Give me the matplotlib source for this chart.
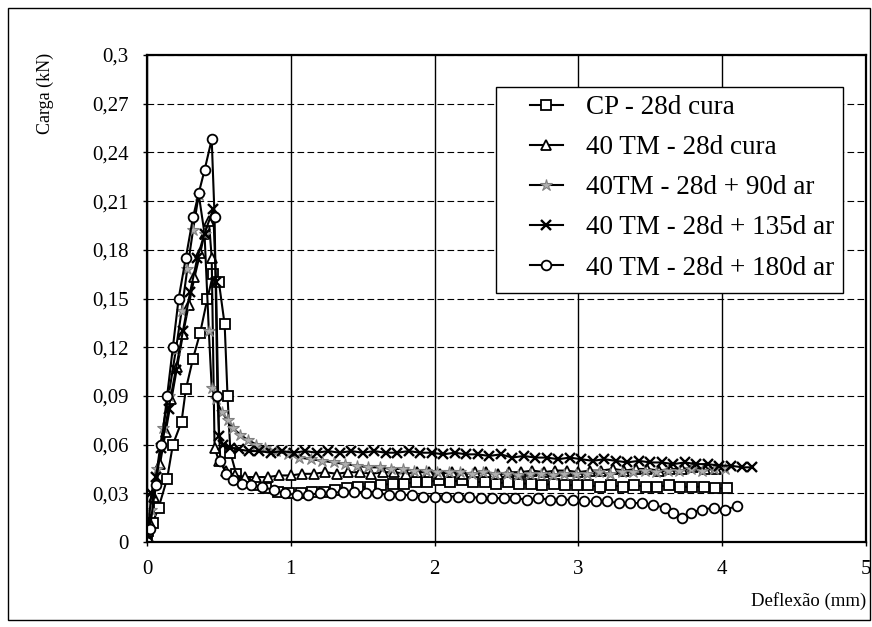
import matplotlib
matplotlib.use("Agg")

import matplotlib.pyplot as plt
from matplotlib.patches import Rectangle

plt.rcParams['font.family'] = ['Liberation Serif', 'DejaVu Serif']

# CP - 28d cura (quadrados)
cp_x = [0.00, 0.01, 0.04, 0.08, 0.14, 0.18, 0.24, 0.27, 0.32, 0.37,
        0.42, 0.46, 0.50, 0.54, 0.56, 0.58, 0.62, 0.68, 0.75, 0.83,
        0.91, 0.99, 1.07, 1.15, 1.23, 1.31, 1.39, 1.47, 1.55, 1.63,
        1.71, 1.79, 1.87, 1.95, 2.03, 2.11, 2.19, 2.27, 2.35, 2.43,
        2.51, 2.59, 2.67, 2.75, 2.83, 2.91, 2.99, 3.07, 3.15, 3.23,
        3.31, 3.39, 3.47, 3.55, 3.63, 3.71, 3.79, 3.87, 3.95, 4.03]
cp_y = [0.000, 0.007, 0.012, 0.021, 0.039, 0.060, 0.074, 0.094, 0.113, 0.129,
        0.150, 0.165, 0.160, 0.134, 0.090, 0.055, 0.042, 0.037, 0.035, 0.033,
        0.031, 0.030, 0.030, 0.031, 0.031, 0.032, 0.033, 0.034, 0.034, 0.035,
        0.036, 0.036, 0.037, 0.037, 0.038, 0.037, 0.038, 0.037, 0.037, 0.036,
        0.037, 0.036, 0.036, 0.035, 0.036, 0.035, 0.035, 0.035, 0.034, 0.035,
        0.034, 0.035, 0.034, 0.034, 0.035, 0.034, 0.034, 0.034, 0.033, 0.033]

# 40 TM - 28d cura (triangulos)
tm_x = [0.00, 0.02, 0.05, 0.09, 0.13, 0.17, 0.21, 0.25, 0.29, 0.33,
        0.37, 0.40, 0.43, 0.45, 0.47, 0.50, 0.55, 0.61, 0.68, 0.76,
        0.84, 0.92, 1.00, 1.08, 1.16, 1.24, 1.32, 1.40, 1.48, 1.56,
        1.64, 1.72, 1.80, 1.88, 1.96, 2.04, 2.12, 2.20, 2.28, 2.36,
        2.44, 2.52, 2.60, 2.68, 2.76, 2.84, 2.92, 3.00, 3.08, 3.16,
        3.24, 3.32, 3.40, 3.48, 3.56, 3.64, 3.72, 3.80, 3.88, 3.96]
tm_y = [0.000, 0.012, 0.028, 0.048, 0.068, 0.088, 0.108, 0.128, 0.146, 0.163,
        0.178, 0.190, 0.198, 0.175, 0.058, 0.050, 0.044, 0.041, 0.040, 0.040,
        0.040, 0.041, 0.041, 0.042, 0.042, 0.043, 0.042, 0.043, 0.043, 0.042,
        0.043, 0.043, 0.042, 0.043, 0.043, 0.042, 0.043, 0.042, 0.043, 0.043,
        0.042, 0.043, 0.043, 0.044, 0.043, 0.044, 0.044, 0.043, 0.044, 0.044,
        0.045, 0.044, 0.045, 0.045, 0.044, 0.045, 0.045, 0.046, 0.045, 0.045]

# 40TM - 28d + 90d ar
ar90_x = [0.00, 0.03, 0.07, 0.11, 0.15, 0.20, 0.24, 0.28, 0.32, 0.36,
          0.40, 0.43, 0.45, 0.48, 0.52, 0.56, 0.60, 0.65, 0.70, 0.76,
          0.82, 0.90, 0.98, 1.06, 1.14, 1.22, 1.30, 1.38, 1.46, 1.54,
          1.62, 1.70, 1.78, 1.86, 1.94, 2.02, 2.10, 2.18, 2.26, 2.34,
          2.42, 2.50, 2.58, 2.66, 2.74, 2.82, 2.90, 2.98, 3.06, 3.14,
          3.22, 3.30, 3.38, 3.46, 3.54, 3.62, 3.70, 3.78, 3.86, 3.94, 4.02]
ar90_y = [0.000, 0.020, 0.045, 0.070, 0.090, 0.118, 0.142, 0.168, 0.192, 0.214,
          0.190, 0.130, 0.095, 0.088, 0.080, 0.075, 0.070, 0.066, 0.063, 0.060,
          0.058, 0.056, 0.054, 0.052, 0.051, 0.050, 0.049, 0.048, 0.047, 0.046,
          0.046, 0.045, 0.045, 0.044, 0.044, 0.043, 0.043, 0.043, 0.042, 0.043,
          0.042, 0.042, 0.041, 0.042, 0.042, 0.041, 0.042, 0.042, 0.042, 0.043,
          0.042, 0.043, 0.043, 0.044, 0.043, 0.044, 0.044, 0.045, 0.044, 0.045, 0.045]

# 40 TM - 28d + 135d ar
ar135_x = [0.00, 0.03, 0.06, 0.10, 0.15, 0.20, 0.25, 0.30, 0.35, 0.40,
           0.46, 0.48, 0.50, 0.53, 0.58, 0.64, 0.71, 0.78, 0.86, 0.94,
           1.02, 1.10, 1.18, 1.26, 1.34, 1.42, 1.50, 1.58, 1.66, 1.74,
           1.82, 1.90, 1.98, 2.06, 2.14, 2.22, 2.30, 2.38, 2.46, 2.54,
           2.62, 2.70, 2.78, 2.86, 2.94, 3.02, 3.10, 3.18, 3.26, 3.34,
           3.42, 3.50, 3.58, 3.66, 3.74, 3.82, 3.90, 3.98, 4.06, 4.14, 4.21]
ar135_y = [0.000, 0.030, 0.040, 0.058, 0.082, 0.106, 0.130, 0.154, 0.175, 0.190,
           0.205, 0.160, 0.065, 0.060, 0.058, 0.057, 0.056, 0.056, 0.055, 0.056,
           0.055, 0.056, 0.055, 0.056, 0.055, 0.056, 0.055, 0.056, 0.055, 0.055,
           0.056, 0.055, 0.055, 0.054, 0.055, 0.054, 0.054, 0.053, 0.054, 0.052,
           0.053, 0.052, 0.052, 0.051, 0.052, 0.051, 0.050, 0.051, 0.050, 0.049,
           0.050, 0.049, 0.049, 0.048, 0.049, 0.048, 0.048, 0.047, 0.047, 0.046, 0.046]

# 40 TM - 28d + 180d ar
ar180_x = [0.00, 0.02, 0.06, 0.10, 0.14, 0.18, 0.22, 0.27, 0.32, 0.36,
           0.40, 0.45, 0.47, 0.49, 0.51, 0.55, 0.60, 0.66, 0.72, 0.80,
           0.88, 0.96, 1.04, 1.12, 1.20, 1.28, 1.36, 1.44, 1.52, 1.60,
           1.68, 1.76, 1.84, 1.92, 2.00, 2.08, 2.16, 2.24, 2.32, 2.40,
           2.48, 2.56, 2.64, 2.72, 2.80, 2.88, 2.96, 3.04, 3.12, 3.20,
           3.28, 3.36, 3.44, 3.52, 3.60, 3.66, 3.72, 3.78, 3.86, 3.94,
           4.02, 4.10]
ar180_y = [0.000, 0.008, 0.035, 0.060, 0.090, 0.120, 0.150, 0.175, 0.200, 0.215,
           0.229, 0.248, 0.200, 0.090, 0.050, 0.042, 0.038, 0.036, 0.035, 0.034,
           0.032, 0.030, 0.029, 0.029, 0.030, 0.030, 0.031, 0.031, 0.030, 0.030,
           0.029, 0.029, 0.029, 0.028, 0.028, 0.028, 0.028, 0.028, 0.027, 0.027,
           0.027, 0.027, 0.026, 0.027, 0.026, 0.026, 0.026, 0.025, 0.025, 0.025,
           0.024, 0.024, 0.024, 0.023, 0.021, 0.018, 0.015, 0.018, 0.020, 0.021,
           0.020, 0.022]

x_ticks = [0, 1, 2, 3, 4, 5]
y_ticks = [0, 0.03, 0.06, 0.09, 0.12, 0.15, 0.18, 0.21, 0.24, 0.27, 0.3]
y_tick_labels = ['0', '0,03', '0,06', '0,09', '0,12', '0,15',
                 '0,18', '0,21', '0,24', '0,27', '0,3']

W, H = 872, 627
fig = plt.figure(figsize=(W / 100, H / 100), dpi=100)
ax = fig.add_axes([147 / W, 1 - 542 / H, (866 - 147) / W, (542 - 55) / H])

lw = 1.5
ax.plot(cp_x, cp_y, color='black', lw=lw, marker='s', ms=6.5, mfc='white',
        mec='black', mew=1.3, label='CP - 28d cura')
ax.plot(tm_x, tm_y, color='black', lw=lw, marker='^', ms=7, mfc='white',
        mec='black', mew=1.3, label='40 TM - 28d cura')
ax.plot(ar90_x, ar90_y, color='black', lw=lw, marker='*', ms=9, mfc='#b0b0b0',
        mec='#808080', mew=0.8, label='40TM - 28d + 90d ar')
ax.plot(ar135_x, ar135_y, color='black', lw=lw, marker='x', ms=7.5,
        mec='black', mew=1.7, label='40 TM - 28d + 135d ar')
ax.plot(ar180_x, ar180_y, color='black', lw=lw, marker='o', ms=7, mfc='white',
        mec='black', mew=1.3, label='40 TM - 28d + 180d ar')

ax.set_xlim(0, 5)
ax.set_ylim(0, 0.3)
ax.set_xticks(x_ticks)
ax.set_xticklabels([str(v) for v in x_ticks])
ax.set_yticks(y_ticks)
ax.set_yticklabels(y_tick_labels)
ax.tick_params(axis='both', direction='out', length=3, width=1,
               labelsize=15, pad=10)

ax.yaxis.grid(True, linestyle=(0, (6, 3)), color='black', lw=0.8)
ax.xaxis.grid(True, linestyle='-', color='black', lw=1.0)
ax.set_axisbelow(True)
for s in ax.spines.values():
    s.set_linewidth(1.6)

fig.text(45 / W, 1 - 93 / H, 'Carga (kN)', rotation=90, fontsize=13,
         ha='center', va='center')
fig.text(866 / W, 1 - 601 / H, 'Deflexão (mm)', fontsize=13.5,
         ha='right', va='center')

# caixa da legenda desenhada a parte
ax.add_patch(Rectangle((496 / W, 1 - 293 / H), (843 - 496) / W, (293 - 87) / H,
                       transform=fig.transFigure, facecolor='white',
                       edgecolor='black', lw=1.0, zorder=4))
leg = ax.legend(loc='upper left', bbox_to_anchor=(530 / W, 1 - 95 / H),
                bbox_transform=fig.transFigure, fontsize=19.5, frameon=False,
                handlelength=1.2, handletextpad=0.85, labelspacing=0.56,
                borderpad=0, borderaxespad=0)
leg.set_zorder(5)

fig.patches.append(Rectangle((8 / W, 1 - 620 / H), 862 / W, 612 / H,
                             transform=fig.transFigure, fill=False,
                             edgecolor='black', lw=1.0))

fig.savefig('out.png', dpi=100)
